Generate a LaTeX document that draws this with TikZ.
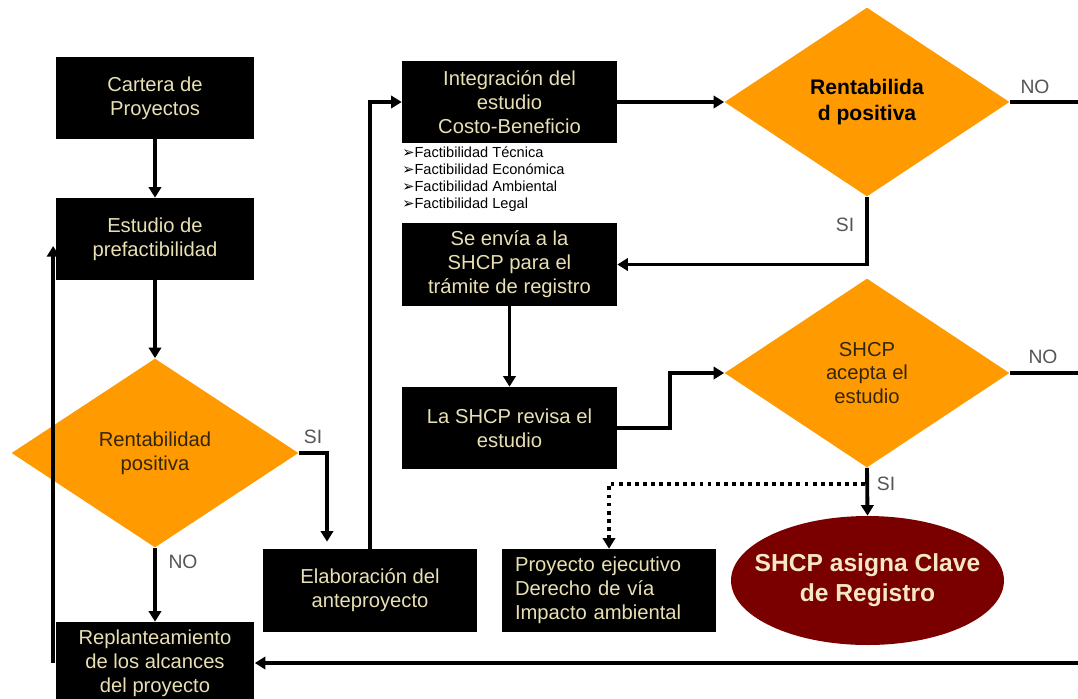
\documentclass[tikz,border=0pt]{standalone}
\usepackage{fontspec}
\setmainfont{Liberation Sans}
\newfontfamily\symfont{DejaVu Sans}
\usetikzlibrary{arrows.meta, shapes.geometric, positioning, calc}
\definecolor{boxtext}{HTML}{E8E0B4}
\definecolor{naranja}{HTML}{FF9A00}
\definecolor{vino}{HTML}{7A0000}
\definecolor{rombotext}{HTML}{33260A}
\definecolor{etiq}{HTML}{555555}
\definecolor{clavetext}{HTML}{F6E8C6}
\tikzset{
  caja/.style = {rectangle, fill = black, text = boxtext, align = center, inner sep = 0pt, font = \fontsize{11.5}{13.6}\selectfont},
  rombo/.style = {diamond, fill = naranja, text = rombotext, align = center, inner sep = 0pt, aspect = 1.5, minimum width = 5.7cm, minimum height = 3.78cm, font = \fontsize{11.5}{13.6}\selectfont},
  flecha/.style = {line width = 2.2pt, -{Triangle[width = 7pt, length = 6pt]}},
  linea/.style = {line width = 2.2pt},
  punteado/.style = {line width = 2.2pt, dash pattern = on 2.2pt off 2.4pt, -{Triangle[width = 7pt, length = 6pt]}},
  etiqueta/.style = {text = etiq, font = \fontsize{11}{13}\selectfont}
}

\begin{document}
\begin{tikzpicture}[x = 0.02cm, y = -0.02cm]
\useasboundingbox (0,0) rectangle (1078,698);
% columna izquierda
\node[caja, minimum width = 3.98cm, minimum height = 1.64cm] (cartera) at (155,98) {Cartera de\\Proyectos};
\node[caja, minimum width = 3.98cm, minimum height = 1.64cm] (estudio) at (155,239) {Estudio de\\prefactibilidad};
\node[rombo, minimum width = 5.74cm] (r1) at (155,453) {Rentabilidad\\positiva};
\node[caja, minimum width = 3.98cm, minimum height = 1.64cm] (replan) at (155,663) {Replanteamiento\\de los alcances\\del proyecto};
\node[caja, minimum width = 4.28cm, minimum height = 1.66cm] (elab) at (370,590.5) {Elaboración del\\anteproyecto};

% columna central
\node[caja, minimum width = 4.3cm, minimum height = 1.64cm] (integ) at (509.5,102) {Integración del\\estudio\\Costo-Beneficio};
\node[anchor = north west, align = left, inner sep = 0pt, font = \fontsize{8.3}{9.7}\selectfont] (lista) at (402,146)
  {{\symfont\bfseries ➢}Factibilidad Técnica\\{\symfont\bfseries ➢}Factibilidad Económica\\{\symfont\bfseries ➢}Factibilidad Ambiental\\{\symfont\bfseries ➢}Factibilidad Legal};
\node[caja, minimum width = 4.3cm, minimum height = 1.66cm] (envia) at (509.5,264.5) {Se envía a la\\SHCP para el\\trámite de registro};
\node[caja, minimum width = 4.3cm, minimum height = 1.64cm] (revisa) at (509.5,428) {La SHCP revisa el\\estudio};
\node[caja, minimum width = 4.28cm, minimum height = 1.66cm, text width = 3.76cm, align = left] (proy) at (609,590.5) {Proyecto ejecutivo\\Derecho de vía\\Impacto ambiental};

% columna derecha
\node[rombo, text = black, font = \fontsize{12}{14.5}\selectfont\bfseries] (r2) at (867,102) {Rentabilida\\d positiva};
\node[rombo] (r3) at (867,373) {SHCP\\acepta el\\estudio};
\node[ellipse, fill = vino, text = clavetext, inner xsep = -0.9cm, inner ysep = 0pt, minimum width = 5.46cm, minimum height = 2.58cm, align = center, font = \fontsize{14}{17}\selectfont\bfseries] (clave) at (867.5,580.5) {SHCP asigna Clave\\de Registro};

\coordinate (fin2) at (1078,102);
\coordinate (fin3) at (1078,373);
\coordinate (fin4) at (1078,663);
\coordinate (desvio) at ($(r3.south)+(-2,16)$);

% etiquetas
\node[etiqueta] (si1) at (313,437) {SI};
\node[etiqueta] (no1) at (183,562) {NO};
\node[etiqueta] (no2) at (1035,87) {NO};
\node[etiqueta] (si2) at (845,225) {SI};
\node[etiqueta] (no3) at (1043,357) {NO};
\node[etiqueta] (si3) at (886,484) {SI};

% conectores
\draw[flecha] (cartera.south) -- (estudio.north);
\draw[flecha] (estudio.south) -- (r1.north);
\draw[flecha] (r1.east) -| ($(elab.north)+(-43,-7)$);
\draw[flecha] (r1.south) -- (replan.north);
\draw[flecha] (elab.north) |- (integ.west);
\draw[flecha] (integ.east) -- (r2.west);
\draw[linea] (r2.east) -- (fin2);
\draw[flecha] (r2.south) |- (envia.east);
\draw[flecha] (envia.south) -- (revisa.north);
\draw[flecha] (revisa.east) -- ++(53,0) |- (r3.west);
\draw[linea] (r3.east) -- (fin3);
\draw[flecha] (r3.south) -- (clave.north);
\draw[punteado] (desvio) -| (proy.north);
\draw[flecha] (fin4) -- (replan.east);
\draw[flecha] ([xshift = -0.04cm]replan.west) -- ([xshift = -0.04cm, yshift = -0.14cm]estudio.west);
\end{tikzpicture}
\end{document}
